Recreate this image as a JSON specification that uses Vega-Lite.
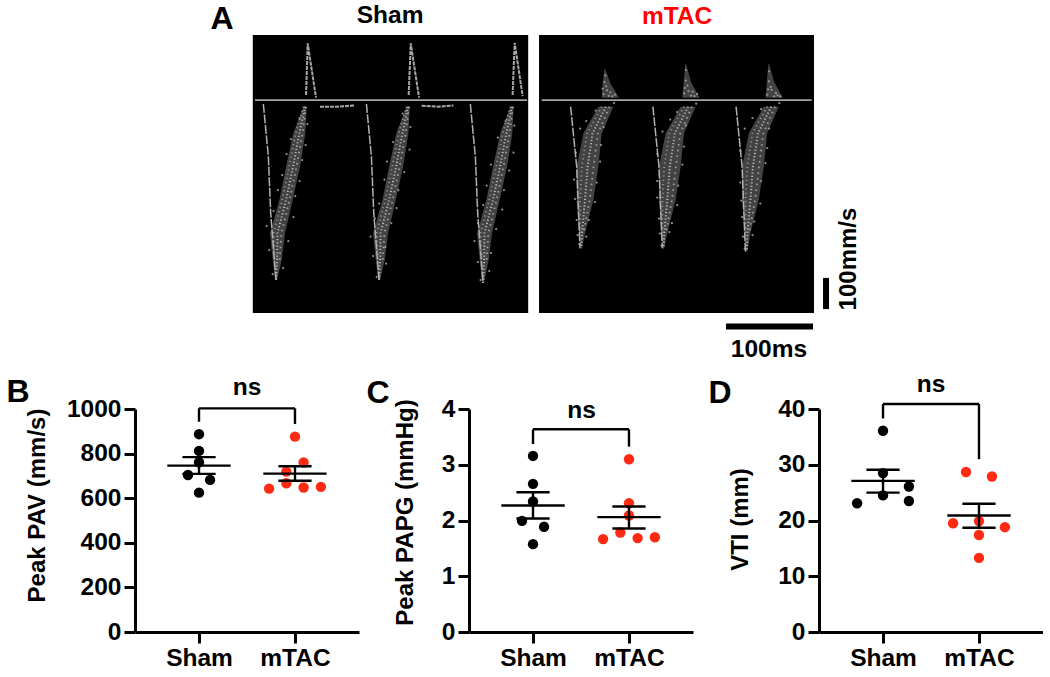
{"$schema":"https://vega.github.io/schema/vega-lite/v6.json","padding":{"left":6,"top":3,"right":0,"bottom":0},"bounds":"flush","spacing":96,"config":{"view":{"stroke":null},"font":"Liberation Sans","text":{"font":"Liberation Sans","fontWeight":"bold"},"axis":{"grid":false,"domainColor":"#000","domainWidth":3,"tickColor":"#000","tickWidth":3,"tickSize":11,"labelColor":"#000","labelFont":"Liberation Sans","labelFontWeight":"bold","labelFontSize":24.5,"labelPadding":3,"labelBound":false,"labelFlush":false,"labelOverlap":false,"titleColor":"#000","titleFont":"Liberation Sans","titleFontWeight":"bold","titleFontSize":24}},
"datasets":{
"panels":[{"panel":"Sham","t0":136,"t1":454,"v0":-710,"v1":217},{"panel":"mTAC","t0":466.5,"t1":784,"v0":-710,"v1":217}],
"baseline":[{"panel":"Sham","t0":138.6,"t1":452.7,"v":0},{"panel":"mTAC","t0":469.6,"t1":781.3,"v":0}],
"bands":[
{"id":"S1","v":-22,"a":194.4,"b":198.2},{"id":"S1","v":-111,"a":182.8,"b":196.7},{"id":"S1","v":-222,"a":174.4,"b":190.5},{"id":"S1","v":-333,"a":166.7,"b":182.1},{"id":"S1","v":-444,"a":155.9,"b":173.2},{"id":"S1","v":-533,"a":159,"b":169.4},{"id":"S1","v":-600,"a":161.7,"b":164},
{"id":"S2","v":-22,"a":313.4,"b":317.2},{"id":"S2","v":-111,"a":301.8,"b":315.7},{"id":"S2","v":-222,"a":293.4,"b":309.5},{"id":"S2","v":-333,"a":285.7,"b":301.1},{"id":"S2","v":-444,"a":274.9,"b":292.2},{"id":"S2","v":-533,"a":278,"b":288.4},{"id":"S2","v":-600,"a":280.7,"b":283},
{"id":"S3","v":-22,"a":433.4,"b":437.2},{"id":"S3","v":-111,"a":421.8,"b":435.7},{"id":"S3","v":-222,"a":413.4,"b":429.5},{"id":"S3","v":-333,"a":405.7,"b":421.1},{"id":"S3","v":-444,"a":394.9,"b":412.2},{"id":"S3","v":-533,"a":398,"b":408.4},{"id":"S3","v":-610,"a":400.7,"b":403},
{"id":"M1","v":-22,"a":535,"b":552.3},{"id":"M1","v":-111,"a":517.7,"b":538.9},{"id":"M1","v":-222,"a":510,"b":535},{"id":"M1","v":-333,"a":510,"b":529.2},{"id":"M1","v":-444,"a":512.7,"b":519.6},{"id":"M1","v":-494,"a":514.6,"b":516.1},
{"id":"M2","v":-22,"a":630,"b":647.3},{"id":"M2","v":-111,"a":612.7,"b":633.9},{"id":"M2","v":-222,"a":605,"b":630},{"id":"M2","v":-333,"a":605,"b":624.2},{"id":"M2","v":-444,"a":607.7,"b":614.6},{"id":"M2","v":-494,"a":609.6,"b":611.1},
{"id":"M3","v":-22,"a":726,"b":743.3},{"id":"M3","v":-111,"a":708.7,"b":729.9},{"id":"M3","v":-222,"a":701,"b":726},{"id":"M3","v":-333,"a":701,"b":720.2},{"id":"M3","v":-444,"a":703.7,"b":710.6},{"id":"M3","v":-505,"a":705.6,"b":707.1},
{"id":"P1","v":8,"a":538.9,"b":559},{"id":"P1","v":55,"a":540,"b":549},{"id":"P1","v":103,"a":542,"b":543},
{"id":"P2","v":8,"a":632,"b":652},{"id":"P2","v":60,"a":633.5,"b":642},{"id":"P2","v":122,"a":635.5,"b":636.2},
{"id":"P3","v":8,"a":728,"b":748},{"id":"P3","v":60,"a":729.5,"b":738},{"id":"P3","v":122,"a":731.4,"b":732}],
"limbs":[
{"id":"S1","t":148.2,"v":-13},{"id":"S1","t":154,"v":-189},{"id":"S1","t":156.7,"v":-378},{"id":"S1","t":162.8,"v":-600},
{"id":"S2","t":267.2,"v":-13},{"id":"S2","t":273,"v":-189},{"id":"S2","t":275.7,"v":-378},{"id":"S2","t":281.8,"v":-600},
{"id":"S3","t":387.2,"v":-13},{"id":"S3","t":393,"v":-189},{"id":"S3","t":395.7,"v":-378},{"id":"S3","t":401.8,"v":-610},
{"id":"M1","t":503,"v":-22},{"id":"M1","t":510,"v":-222},{"id":"M1","t":513.8,"v":-494},
{"id":"M2","t":598,"v":-22},{"id":"M2","t":605,"v":-222},{"id":"M2","t":608.8,"v":-494},
{"id":"M3","t":694,"v":-22},{"id":"M3","t":701,"v":-222},{"id":"M3","t":704.8,"v":-505}],
"peaks":[
{"id":"S1","t":197.5,"v":17},{"id":"S1","t":199.4,"v":189},{"id":"S1","t":209,"v":8},
{"id":"S2","t":316,"v":17},{"id":"S2","t":318.4,"v":189},{"id":"S2","t":328,"v":8},
{"id":"S3","t":436,"v":17},{"id":"S3","t":438.4,"v":191},{"id":"S3","t":447.6,"v":13},
{"id":"D1","t":213.6,"v":-22},{"id":"D1","t":233,"v":-22},{"id":"D1","t":254,"v":-18},
{"id":"D2","t":331,"v":-19},{"id":"D2","t":350,"v":-22},{"id":"D2","t":367.6,"v":-18}],
"speckle":[
{"id":"S1c","t":196.3,"v":-22},{"id":"S1c","t":189.8,"v":-111},{"id":"S1c","t":182.5,"v":-222},{"id":"S1c","t":174.4,"v":-333},{"id":"S1c","t":164.5,"v":-444},{"id":"S1c","t":164.2,"v":-533},{"id":"S1c","t":162.8,"v":-600},
{"id":"S1l","t":194.5,"v":-22},{"id":"S1l","t":185.5,"v":-111},{"id":"S1l","t":178,"v":-222},{"id":"S1l","t":170,"v":-333},{"id":"S1l","t":160,"v":-444},{"id":"S1l","t":161.5,"v":-533},
{"id":"S1r","t":197.5,"v":-22},{"id":"S1r","t":193.5,"v":-111},{"id":"S1r","t":186.5,"v":-222},{"id":"S1r","t":178.5,"v":-333},{"id":"S1r","t":169,"v":-444},{"id":"S1r","t":167,"v":-533},
{"id":"S2c","t":315.3,"v":-22},{"id":"S2c","t":308.8,"v":-111},{"id":"S2c","t":301.5,"v":-222},{"id":"S2c","t":293.4,"v":-333},{"id":"S2c","t":283.5,"v":-444},{"id":"S2c","t":283.2,"v":-533},{"id":"S2c","t":281.8,"v":-600},
{"id":"S2l","t":313.5,"v":-22},{"id":"S2l","t":304.5,"v":-111},{"id":"S2l","t":297,"v":-222},{"id":"S2l","t":289,"v":-333},{"id":"S2l","t":279,"v":-444},{"id":"S2l","t":280.5,"v":-533},
{"id":"S2r","t":316.5,"v":-22},{"id":"S2r","t":312.5,"v":-111},{"id":"S2r","t":305.5,"v":-222},{"id":"S2r","t":297.5,"v":-333},{"id":"S2r","t":288,"v":-444},{"id":"S2r","t":286,"v":-533},
{"id":"S3c","t":435.3,"v":-22},{"id":"S3c","t":428.8,"v":-111},{"id":"S3c","t":421.5,"v":-222},{"id":"S3c","t":413.4,"v":-333},{"id":"S3c","t":403.5,"v":-444},{"id":"S3c","t":403.2,"v":-533},{"id":"S3c","t":401.8,"v":-610},
{"id":"S3l","t":433.5,"v":-22},{"id":"S3l","t":424.5,"v":-111},{"id":"S3l","t":417,"v":-222},{"id":"S3l","t":409,"v":-333},{"id":"S3l","t":399,"v":-444},{"id":"S3l","t":400.5,"v":-533},
{"id":"S3r","t":436.5,"v":-22},{"id":"S3r","t":432.5,"v":-111},{"id":"S3r","t":425.5,"v":-222},{"id":"S3r","t":417.5,"v":-333},{"id":"S3r","t":408,"v":-444},{"id":"S3r","t":406,"v":-533},
{"id":"M1c","t":543.6,"v":-22},{"id":"M1c","t":528.3,"v":-111},{"id":"M1c","t":522.5,"v":-222},{"id":"M1c","t":519.6,"v":-333},{"id":"M1c","t":516.1,"v":-444},{"id":"M1c","t":515.3,"v":-494},
{"id":"M1l","t":539,"v":-22},{"id":"M1l","t":522,"v":-111},{"id":"M1l","t":516,"v":-222},{"id":"M1l","t":514,"v":-333},{"id":"M1l","t":514,"v":-444},
{"id":"M1r","t":548,"v":-22},{"id":"M1r","t":534.5,"v":-111},{"id":"M1r","t":529.5,"v":-222},{"id":"M1r","t":525,"v":-333},{"id":"M1r","t":518,"v":-444},
{"id":"M2c","t":638.6,"v":-22},{"id":"M2c","t":623.3,"v":-111},{"id":"M2c","t":617.5,"v":-222},{"id":"M2c","t":614.6,"v":-333},{"id":"M2c","t":611.1,"v":-444},{"id":"M2c","t":610.3,"v":-494},
{"id":"M2l","t":634,"v":-22},{"id":"M2l","t":617,"v":-111},{"id":"M2l","t":611,"v":-222},{"id":"M2l","t":609,"v":-333},{"id":"M2l","t":609,"v":-444},
{"id":"M2r","t":643,"v":-22},{"id":"M2r","t":629.5,"v":-111},{"id":"M2r","t":624.5,"v":-222},{"id":"M2r","t":620,"v":-333},{"id":"M2r","t":613,"v":-444},
{"id":"M3c","t":734.6,"v":-22},{"id":"M3c","t":719.3,"v":-111},{"id":"M3c","t":713.5,"v":-222},{"id":"M3c","t":710.6,"v":-333},{"id":"M3c","t":707.1,"v":-444},{"id":"M3c","t":706.3,"v":-505},
{"id":"M3l","t":730,"v":-22},{"id":"M3l","t":713,"v":-111},{"id":"M3l","t":707,"v":-222},{"id":"M3l","t":705,"v":-333},{"id":"M3l","t":705,"v":-444},
{"id":"M3r","t":739,"v":-22},{"id":"M3r","t":725.5,"v":-111},{"id":"M3r","t":720.5,"v":-222},{"id":"M3r","t":716,"v":-333},{"id":"M3r","t":709,"v":-444}],
"grit":[
{"t":190,"v":-60},{"t":199,"v":-80},{"t":180,"v":-130},{"t":197,"v":-150},{"t":175,"v":-180},{"t":193,"v":-200},{"t":170,"v":-250},{"t":190,"v":-270},{"t":165,"v":-300},{"t":185,"v":-320},{"t":160,"v":-370},{"t":183,"v":-390},{"t":152,"v":-420},{"t":177,"v":-470},{"t":155,"v":-500},{"t":171,"v":-560},{"t":159,"v":-580},
{"t":309,"v":-45},{"t":318,"v":-90},{"t":298,"v":-140},{"t":317,"v":-165},{"t":291,"v":-205},{"t":311,"v":-240},{"t":288,"v":-265},{"t":304,"v":-300},{"t":282,"v":-345},{"t":302,"v":-360},{"t":277,"v":-395},{"t":296,"v":-410},{"t":272,"v":-455},{"t":289,"v":-490},{"t":275,"v":-520},{"t":290,"v":-545},{"t":279,"v":-590},
{"t":428,"v":-70},{"t":438,"v":-85},{"t":419,"v":-125},{"t":437,"v":-175},{"t":411,"v":-215},{"t":432,"v":-235},{"t":406,"v":-285},{"t":426,"v":-300},{"t":402,"v":-350},{"t":424,"v":-365},{"t":396,"v":-410},{"t":417,"v":-430},{"t":392,"v":-470},{"t":411,"v":-510},{"t":396,"v":-540},{"t":409,"v":-570},{"t":399,"v":-600},
{"t":553,"v":-10},{"t":532,"v":-35},{"t":541,"v":-90},{"t":514,"v":-95},{"t":521,"v":-70},{"t":538,"v":-150},{"t":509,"v":-175},{"t":537,"v":-205},{"t":507,"v":-265},{"t":533,"v":-275},{"t":508,"v":-330},{"t":531,"v":-340},{"t":510,"v":-400},{"t":524,"v":-400},{"t":511,"v":-450},{"t":521,"v":-455},{"t":513,"v":-480},
{"t":648,"v":-12},{"t":626,"v":-40},{"t":636,"v":-85},{"t":609,"v":-105},{"t":618,"v":-65},{"t":634,"v":-155},{"t":603,"v":-180},{"t":632,"v":-215},{"t":603,"v":-270},{"t":627,"v":-285},{"t":603,"v":-325},{"t":626,"v":-350},{"t":605,"v":-395},{"t":620,"v":-410},{"t":606,"v":-445},{"t":617,"v":-440},{"t":608,"v":-485},
{"t":744,"v":-10},{"t":723,"v":-30},{"t":732,"v":-95},{"t":704,"v":-95},{"t":713,"v":-60},{"t":730,"v":-160},{"t":699,"v":-170},{"t":728,"v":-210},{"t":699,"v":-275},{"t":723,"v":-270},{"t":700,"v":-335},{"t":722,"v":-345},{"t":701,"v":-390},{"t":715,"v":-405},{"t":702,"v":-455},{"t":713,"v":-450},{"t":704,"v":-495},
{"t":541,"v":20},{"t":545,"v":32},{"t":547,"v":14},{"t":542,"v":60},{"t":544,"v":46},{"t":551,"v":12},{"t":554,"v":18},{"t":543,"v":82},{"t":540,"v":38},{"t":549,"v":26},
{"t":634,"v":22},{"t":639,"v":30},{"t":642,"v":15},{"t":636,"v":65},{"t":638,"v":48},{"t":646,"v":13},{"t":649,"v":20},{"t":636,"v":100},{"t":635,"v":40},{"t":644,"v":28},
{"t":730,"v":18},{"t":735,"v":34},{"t":738,"v":12},{"t":732,"v":62},{"t":734,"v":44},{"t":742,"v":16},{"t":745,"v":12},{"t":732,"v":96},{"t":731,"v":36},{"t":740,"v":24}],
"scalebars":[{"bar":"100ms","t0":682.4,"t1":782.9,"v0":-755,"v1":-755},{"bar":"100mm/s","t0":797.9,"t1":797.9,"v0":-593,"v1":-697}],
"labels":[{"label":"A","t":100.5,"v":270,"group":"note","size":"large"},{"label":"Sham","t":294.5,"v":280,"group":"Sham","size":"normal"},{"label":"mTAC","t":625.9,"v":277,"group":"mTAC","size":"normal"},{"label":"100ms","t":732,"v":-833,"group":"note","size":"normal"}]
},
"vconcat":[
{"width":679,"height":278,"encoding":{},
"layer":[
{"data":{"name":"panels"},"mark":{"type":"rect","color":"#000"},"encoding":{"x":{"field":"t0","type":"quantitative","scale":{"domain":[0,784],"nice":false,"zero":false},"axis":null},"x2":{"field":"t1"},"y":{"field":"v0","type":"quantitative","scale":{"domain":[-710,217],"nice":false,"zero":false},"axis":null},"y2":{"field":"v1"}}},
{"data":{"name":"bands"},"mark":{"type":"area","orient":"horizontal","color":"#707070","opacity":0.6},"encoding":{"x":{"field":"a","type":"quantitative"},"x2":{"field":"b"},"y":{"field":"v","type":"quantitative"},"detail":{"field":"id"}}},
{"data":{"name":"grit"},"mark":{"type":"circle","color":"#a0a0a0","size":5,"opacity":0.9},"encoding":{"x":{"field":"t","type":"quantitative"},"y":{"field":"v","type":"quantitative"}}},
{"data":{"name":"speckle"},"transform":[{"filter":"indexof(datum.id,'c')==2"}],"mark":{"type":"line","color":"#cfcfcf","strokeWidth":2,"strokeDash":[1.2,2.1],"opacity":0.85},"encoding":{"x":{"field":"t","type":"quantitative"},"y":{"field":"v","type":"quantitative"},"detail":{"field":"id"},"order":{"field":"v","sort":"descending"}}},
{"data":{"name":"speckle"},"transform":[{"filter":"indexof(datum.id,'l')==2"}],"mark":{"type":"line","color":"#a8a8a8","strokeWidth":1.8,"strokeDash":[1,3.3],"opacity":0.9},"encoding":{"x":{"field":"t","type":"quantitative"},"y":{"field":"v","type":"quantitative"},"detail":{"field":"id"},"order":{"field":"v","sort":"descending"}}},
{"data":{"name":"speckle"},"transform":[{"filter":"indexof(datum.id,'r')==2"}],"mark":{"type":"line","color":"#a8a8a8","strokeWidth":1.8,"strokeDash":[1.6,4.1],"opacity":0.9},"encoding":{"x":{"field":"t","type":"quantitative"},"y":{"field":"v","type":"quantitative"},"detail":{"field":"id"},"order":{"field":"v","sort":"descending"}}},
{"data":{"name":"limbs"},"mark":{"type":"line","color":"#b0b0b0","strokeWidth":1.5,"strokeDash":[9,1.5]},"encoding":{"x":{"field":"t","type":"quantitative"},"y":{"field":"v","type":"quantitative"},"detail":{"field":"id"},"order":{"field":"v","sort":"descending"}}},
{"data":{"name":"peaks"},"mark":{"type":"line","color":"#a8a8a8","strokeWidth":2,"strokeDash":[4,1]},"encoding":{"x":{"field":"t","type":"quantitative"},"y":{"field":"v","type":"quantitative"},"detail":{"field":"id"}}},
{"data":{"name":"baseline"},"mark":{"type":"rule","color":"#a6a6a6","strokeWidth":1.6},"encoding":{"x":{"field":"t0","type":"quantitative"},"x2":{"field":"t1"},"y":{"field":"v","type":"quantitative"}}},
{"data":{"name":"scalebars"},"mark":{"type":"rule","color":"#000","strokeWidth":6},"encoding":{"x":{"field":"t0","type":"quantitative"},"x2":{"field":"t1"},"y":{"field":"v0","type":"quantitative"},"y2":{"field":"v1"}}},
{"data":{"name":"labels"},"mark":{"type":"text","baseline":"middle","align":"center"},"encoding":{"x":{"field":"t","type":"quantitative"},"y":{"field":"v","type":"quantitative"},"text":{"field":"label"},"color":{"field":"group","type":"nominal","scale":{"domain":["note","Sham","mTAC"],"range":["#000","#000","#ff0000"]},"legend":null},"size":{"field":"size","type":"nominal","scale":{"domain":["normal","large"],"range":[24.5,32]},"legend":null}}},
{"data":{"values":[{"label":"100mm/s","t":824.5,"v":-530}]},"mark":{"type":"text","baseline":"middle","align":"center","angle":270,"fontSize":24,"color":"#000"},"encoding":{"x":{"field":"t","type":"quantitative"},"y":{"field":"v","type":"quantitative"},"text":{"field":"label"}}}
],"resolve":{"scale":{"color":"independent"}}},
{"bounds":"full","spacing":15,"hconcat":[
{"bounds":"flush","spacing":110,"hconcat":[
{"width":224,"height":223,
"layer":[
{"data":{"values":[{"group":"Sham","x":1,"y":887},{"group":"Sham","x":1,"y":812},{"group":"Sham","x":1,"y":761},{"group":"Sham","x":0.885,"y":704},{"group":"Sham","x":1.115,"y":682},{"group":"Sham","x":1,"y":625},{"group":"mTAC","x":2,"y":876},{"group":"mTAC","x":2.09,"y":760},{"group":"mTAC","x":1.91,"y":719},{"group":"mTAC","x":1.91,"y":667},{"group":"mTAC","x":2.09,"y":648},{"group":"mTAC","x":1.73,"y":643},{"group":"mTAC","x":2.27,"y":651}]},
"mark":{"type":"circle","opacity":1,"size":108},
"encoding":{"x":{"field":"x","type":"quantitative","scale":{"domain":[0.333,2.667],"nice":false,"zero":false},"axis":{"title":null,"values":[1,2],"labelExpr":"datum.value==1?'Sham':'mTAC'"}},"y":{"field":"y","type":"quantitative","scale":{"domain":[0,1000],"nice":false},"axis":{"title":"Peak PAV (mm/s)","format":"d","values":[0,200,400,600,800,1000],"titleX":-98,"titleY":96,"titleAlign":"center","titleBaseline":"middle","titleAngle":270}},"color":{"field":"group","type":"nominal","scale":{"domain":["Sham","mTAC"],"range":["#000000","#ff2a12"]},"legend":null}}},
{"data":{"values":[{"x":0.67,"x2":1.33,"y":746,"y2":746},{"x":0.827,"x2":1.173,"y":784,"y2":784},{"x":0.827,"x2":1.173,"y":709,"y2":709},{"x":1,"x2":1,"y":709,"y2":784},{"x":1.67,"x2":2.33,"y":710,"y2":710},{"x":1.827,"x2":2.173,"y":743,"y2":743},{"x":1.827,"x2":2.173,"y":678,"y2":678},{"x":2,"x2":2,"y":678,"y2":743},{"x":1,"x2":1,"y":943,"y2":1003},{"x":1,"x2":2,"y":1003,"y2":1003},{"x":2,"x2":2,"y":1003,"y2":933}]},
"mark":{"type":"rule","color":"#000","strokeWidth":2.4},"encoding":{"x":{"field":"x","type":"quantitative"},"x2":{"field":"x2"},"y":{"field":"y","type":"quantitative"},"y2":{"field":"y2"}}},
{"data":{"values":[{"label":"ns","x":1.5,"y":1094,"size":"normal"},{"label":"B","x":-0.885,"y":1076,"size":"large"}]},
"mark":{"type":"text","baseline":"middle","align":"center","color":"#000"},"encoding":{"x":{"field":"x","type":"quantitative"},"y":{"field":"y","type":"quantitative"},"text":{"field":"label"},"size":{"field":"size","type":"nominal","scale":{"domain":["normal","large"],"range":[23,32]},"legend":null}}}
]},
{"width":224,"height":223,
"layer":[
{"data":{"values":[{"group":"Sham","x":1,"y":3.158},{"group":"Sham","x":1,"y":2.657},{"group":"Sham","x":1,"y":2.34},{"group":"Sham","x":0.885,"y":1.994},{"group":"Sham","x":1.115,"y":1.887},{"group":"Sham","x":1,"y":1.576},{"group":"mTAC","x":2,"y":3.099},{"group":"mTAC","x":2,"y":2.31},{"group":"mTAC","x":2,"y":2.09},{"group":"mTAC","x":1.91,"y":1.785},{"group":"mTAC","x":2.09,"y":1.684},{"group":"mTAC","x":1.73,"y":1.666},{"group":"mTAC","x":2.27,"y":1.7}]},
"mark":{"type":"circle","opacity":1,"size":108},
"encoding":{"x":{"field":"x","type":"quantitative","scale":{"domain":[0.333,2.667],"nice":false,"zero":false},"axis":{"title":null,"values":[1,2],"labelExpr":"datum.value==1?'Sham':'mTAC'"}},"y":{"field":"y","type":"quantitative","scale":{"domain":[0,4],"nice":false},"axis":{"title":"Peak PAPG (mmHg)","format":"d","values":[0,1,2,3,4],"titleX":-64,"titleY":103,"titleAlign":"center","titleBaseline":"middle","titleAngle":270}},"color":{"field":"group","type":"nominal","scale":{"domain":["Sham","mTAC"],"range":["#000000","#ff2a12"]},"legend":null}}},
{"data":{"values":[{"x":0.67,"x2":1.33,"y":2.269,"y2":2.269},{"x":0.827,"x2":1.173,"y":2.507,"y2":2.507},{"x":0.827,"x2":1.173,"y":2.036,"y2":2.036},{"x":1,"x2":1,"y":2.036,"y2":2.507},{"x":1.67,"x2":2.33,"y":2.06,"y2":2.06},{"x":1.827,"x2":2.173,"y":2.25,"y2":2.25},{"x":1.827,"x2":2.173,"y":1.857,"y2":1.857},{"x":2,"x2":2,"y":1.857,"y2":2.25},{"x":1,"x2":1,"y":3.373,"y2":3.636},{"x":1,"x2":2,"y":3.636,"y2":3.636},{"x":2,"x2":2,"y":3.636,"y2":3.325}]},
"mark":{"type":"rule","color":"#000","strokeWidth":2.4},"encoding":{"x":{"field":"x","type":"quantitative"},"x2":{"field":"x2"},"y":{"field":"y","type":"quantitative"},"y2":{"field":"y2"}}},
{"data":{"values":[{"label":"ns","x":1.507,"y":3.97,"size":"normal"},{"label":"C","x":-0.615,"y":4.287,"size":"large"}]},
"mark":{"type":"text","baseline":"middle","align":"center","color":"#000"},"encoding":{"x":{"field":"x","type":"quantitative"},"y":{"field":"y","type":"quantitative"},"text":{"field":"label"},"size":{"field":"size","type":"nominal","scale":{"domain":["normal","large"],"range":[23,32]},"legend":null}}}
]}
]},
{"width":224,"height":223,
"layer":[
{"data":{"values":[{"group":"Sham","x":1,"y":36.1},{"group":"Sham","x":1,"y":28.5},{"group":"Sham","x":1.27,"y":26.1},{"group":"Sham","x":1,"y":24.5},{"group":"Sham","x":1.27,"y":23.5},{"group":"Sham","x":0.73,"y":23.1},{"group":"mTAC","x":1.865,"y":28.7},{"group":"mTAC","x":2.135,"y":27.9},{"group":"mTAC","x":2,"y":19.9},{"group":"mTAC","x":1.73,"y":19.5},{"group":"mTAC","x":2.27,"y":18.8},{"group":"mTAC","x":2,"y":17.4},{"group":"mTAC","x":2,"y":13.3}]},
"mark":{"type":"circle","opacity":1,"size":108},
"encoding":{"x":{"field":"x","type":"quantitative","scale":{"domain":[0.333,2.667],"nice":false,"zero":false},"axis":{"title":null,"values":[1,2],"labelExpr":"datum.value==1?'Sham':'mTAC'"}},"y":{"field":"y","type":"quantitative","scale":{"domain":[0,40],"nice":false},"axis":{"title":"VTI (mm)","values":[0,10,20,30,40],"titleX":-79,"titleY":110,"titleAlign":"center","titleBaseline":"middle","titleAngle":270}},"color":{"field":"group","type":"nominal","scale":{"domain":["Sham","mTAC"],"range":["#000000","#ff2a12"]},"legend":null}}},
{"data":{"values":[{"x":0.67,"x2":1.33,"y":27.1,"y2":27.1},{"x":0.827,"x2":1.173,"y":29.1,"y2":29.1},{"x":0.827,"x2":1.173,"y":25,"y2":25},{"x":1,"x2":1,"y":25,"y2":29.1},{"x":1.67,"x2":2.33,"y":20.9,"y2":20.9},{"x":1.827,"x2":2.173,"y":23,"y2":23},{"x":1.827,"x2":2.173,"y":18.7,"y2":18.7},{"x":2,"x2":2,"y":18.7,"y2":23},{"x":1,"x2":1,"y":38.3,"y2":40.9},{"x":1,"x2":2,"y":40.9,"y2":40.9},{"x":2,"x2":2,"y":40.9,"y2":31}]},
"mark":{"type":"rule","color":"#000","strokeWidth":2.4},"encoding":{"x":{"field":"x","type":"quantitative"},"x2":{"field":"x2"},"y":{"field":"y","type":"quantitative"},"y2":{"field":"y2"}}},
{"data":{"values":[{"label":"ns","x":1.5,"y":44.3,"size":"normal"},{"label":"D","x":-0.698,"y":42.87,"size":"large"}]},
"mark":{"type":"text","baseline":"middle","align":"center","color":"#000"},"encoding":{"x":{"field":"x","type":"quantitative"},"y":{"field":"y","type":"quantitative"},"text":{"field":"label"},"size":{"field":"size","type":"nominal","scale":{"domain":["normal","large"],"range":[23,32]},"legend":null}}}
]}
]}
]}
